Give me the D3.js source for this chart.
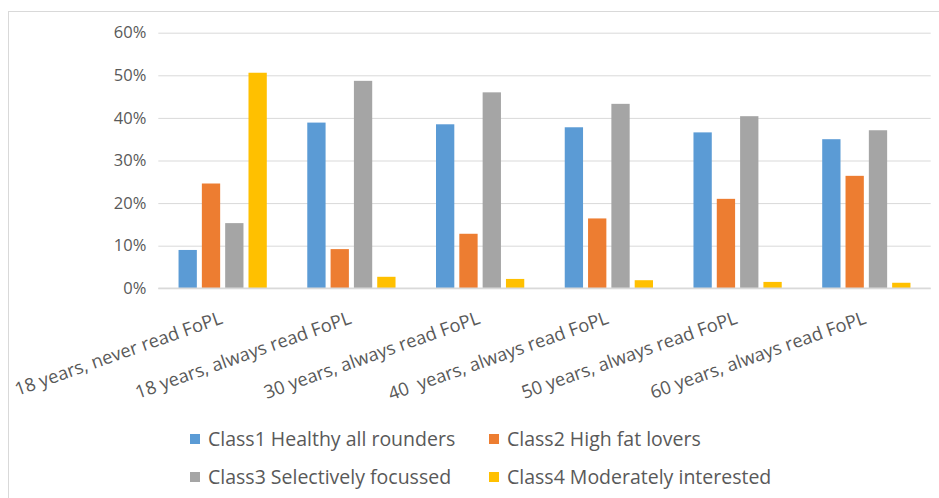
<!DOCTYPE html>
<html>
<head>
<meta charset="utf-8">
<script src="https://cdn.jsdelivr.net/npm/d3@7"></script>
<style>
  html, body { margin: 0; padding: 0; background: #fff; }
  svg { display: block; }
  text { font-family: "Open Sans", "Noto Sans", sans-serif; fill: #595959; }
</style>
</head>
<body>
<svg id="chart" width="939" height="498"></svg>
<script>
const categories = [
  "18 years, never read FoPL",
  "18 years, always read FoPL",
  "30 years, always read FoPL",
  "40  years, always read FoPL",
  "50 years, always read FoPL",
  "60 years, always read FoPL"
];
const seriesNames = [
  "Class1 Healthy all rounders",
  "Class2 High fat lovers",
  "Class3 Selectively focussed",
  "Class4 Moderately interested"
];
const class1 = [0.090, 0.389, 0.385, 0.378, 0.366, 0.350];
const class2 = [0.246, 0.092, 0.128, 0.164, 0.210, 0.264];
const class3 = [0.153, 0.487, 0.460, 0.433, 0.404, 0.371];
const class4 = [0.506, 0.027, 0.022, 0.019, 0.015, 0.013];
const yTicks = [0, 0.1, 0.2, 0.3, 0.4, 0.5, 0.6];
const colors = ["#5B9BD5", "#ED7D31", "#A5A5A5", "#FFC000"];

const seriesValues = [class1, class2, class3, class4];

const svg = d3.select("#chart");

// chart frame
svg.append("rect")
  .attr("x", 8.5).attr("y", 11.5)
  .attr("width", 960).attr("height", 520)
  .attr("fill", "none").attr("stroke", "#D9D9D9").attr("stroke-width", 1);

const plot = { left: 158.3, right: 930.7, top: 32.7, bottom: 288.3 };

const x0 = d3.scaleBand().domain(categories).range([plot.left, plot.right]).padding(0);
const x1 = d3.scaleBand().domain(seriesNames).range([0, x0.bandwidth()])
  .paddingInner(0.215).paddingOuter(0.868);
const y = d3.scaleLinear().domain([0, 0.6]).range([plot.bottom, plot.top]);

// gridlines + y labels via axis
const yAxis = d3.axisLeft(y).tickValues(yTicks).tickFormat(d3.format(".0%"))
  .tickSize(-(plot.right - plot.left)).tickPadding(12);
const gy = svg.append("g").attr("transform", `translate(${plot.left},0)`).call(yAxis);
gy.select(".domain").remove();
gy.selectAll(".tick line").attr("stroke", "#D9D9D9").attr("stroke-width", 1);
gy.selectAll(".tick text").attr("font-size", 16.5).attr("fill", "#595959")
  .attr("font-family", '"Open Sans", sans-serif');

// bars
const groups = svg.append("g").selectAll("g")
  .data(categories).join("g")
  .attr("transform", d => `translate(${x0(d)},0)`);
groups.selectAll("rect")
  .data((d, i) => seriesNames.map((s, k) => ({ s, k, v: seriesValues[k][i] })))
  .join("rect")
  .attr("x", d => x1(d.s))
  .attr("width", x1.bandwidth())
  .attr("y", d => y(d.v))
  .attr("height", d => y(0) - y(d.v))
  .attr("fill", d => colors[d.k]);

// baseline axis
svg.append("line")
  .attr("x1", plot.left).attr("x2", plot.right)
  .attr("y1", y(0)).attr("y2", y(0))
  .attr("stroke", "#D9D9D9").attr("stroke-width", 1.5);

// category labels
svg.append("g").selectAll("text")
  .data(categories).join("text")
  .attr("transform", d => `translate(${x0(d) + x0.bandwidth() / 2 + 1},323) rotate(-19.5)`)
  .attr("text-anchor", "end")
  .attr("font-size", 18.3)
  .style("white-space", "pre")
  .text(d => d);

// legend
const legendPos = [
  { x: 190, y: 439 }, { x: 489, y: 439 },
  { x: 190, y: 477 }, { x: 489, y: 477 }
];
const lg = svg.append("g").selectAll("g")
  .data(seriesNames).join("g")
  .attr("transform", (d, i) => `translate(${legendPos[i].x},${legendPos[i].y})`);
lg.append("rect").attr("x", 0).attr("y", -5).attr("width", 10).attr("height", 10)
  .attr("fill", (d, i) => colors[i]);
lg.append("text").attr("x", 18).attr("y", 0).attr("dy", "0.35em")
  .attr("font-size", 19.5).text(d => d);
</script>
</body>
</html>
